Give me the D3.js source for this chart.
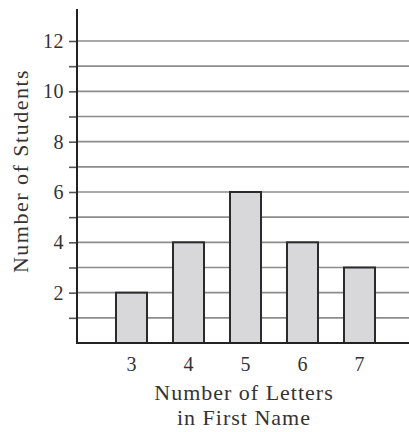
<!DOCTYPE html>
<html lang="en">
<head>
    <meta charset="UTF-8">
    <script src="https://d3js.org/d3.v7.min.js"></script>
    <title>Letters in First Name</title>
    <style>
        body { margin: 0; background: #fff; }
        text { font-family: "Liberation Serif", "Times New Roman", serif; fill: #333; }
    </style>
</head>
<body>
    <svg id="chart" width="409" height="432"></svg>
    <script>
        // data
        var letters = ["3", "4", "5", "6", "7"];
        var students = [2, 4, 6, 4, 3];
        var yTicks = [1, 2, 3, 4, 5, 6, 7, 8, 9, 10, 11, 12];

        var svg = d3.select("#chart");

        var left = 77, bottom = 343, right = 409;

        // scales
        var y = d3.scaleLinear()
            .domain([0, 12])
            .range([bottom, 41]);

        var x = d3.scaleBand()
            .domain(letters)
            .range([103, 388])
            .paddingInner(0.456)
            .paddingOuter(0.228);

        // grid lines
        svg.append("g")
            .selectAll("line")
            .data(yTicks)
            .enter().append("line")
            .attr("x1", left)
            .attr("x2", right)
            .attr("y1", function (d) { return y(d); })
            .attr("y2", function (d) { return y(d); })
            .attr("stroke", "#8c8c8c")
            .attr("stroke-width", 1.6);

        // y axis (ticks + even labels)
        var yAxis = d3.axisLeft(y)
            .tickValues(yTicks)
            .tickSize(8)
            .tickPadding(5)
            .tickFormat(function (d) { return d % 2 === 0 ? d : ""; });

        var gy = svg.append("g")
            .attr("transform", "translate(" + left + ",0)")
            .call(yAxis);
        gy.select(".domain").remove();
        gy.selectAll(".tick line").attr("stroke", "#555").attr("stroke-width", 1.6);
        gy.selectAll(".tick text")
            .attr("font-size", 20)
            .attr("letter-spacing", 0.5);

        // bars
        svg.append("g")
            .selectAll("rect")
            .data(students)
            .enter().append("rect")
            .attr("x", function (d, i) { return x(letters[i]); })
            .attr("y", function (d) { return y(d); })
            .attr("width", x.bandwidth())
            .attr("height", function (d) { return y(0) - y(d); })
            .attr("fill", "#d8d8da")
            .attr("stroke", "#2b2b2b")
            .attr("stroke-width", 2);

        // x axis labels
        var gx = svg.append("g")
            .attr("transform", "translate(0," + bottom + ")")
            .call(d3.axisBottom(x).tickSize(0).tickPadding(14));
        gx.select(".domain").remove();
        gx.selectAll(".tick text")
            .attr("font-size", 20);

        // axis lines
        svg.append("line")
            .attr("x1", left).attr("x2", left)
            .attr("y1", 9).attr("y2", bottom + 1)
            .attr("stroke", "#222")
            .attr("stroke-width", 2);

        svg.append("line")
            .attr("x1", left - 1).attr("x2", right)
            .attr("y1", bottom).attr("y2", bottom)
            .attr("stroke", "#222")
            .attr("stroke-width", 2);

        // axis titles
        var xTitle = svg.append("text")
            .attr("text-anchor", "middle")
            .attr("font-size", 22)
            .attr("letter-spacing", 1);
        xTitle.append("tspan").attr("x", 244).attr("y", 400).text("Number of Letters");
        xTitle.append("tspan").attr("x", 244).attr("y", 425).text("in First Name");

        svg.append("text")
            .attr("transform", "translate(28,171) rotate(-90)")
            .attr("text-anchor", "middle")
            .attr("font-size", 22)
            .attr("letter-spacing", 1.5)
            .text("Number of Students");
    </script>
</body>
</html>
